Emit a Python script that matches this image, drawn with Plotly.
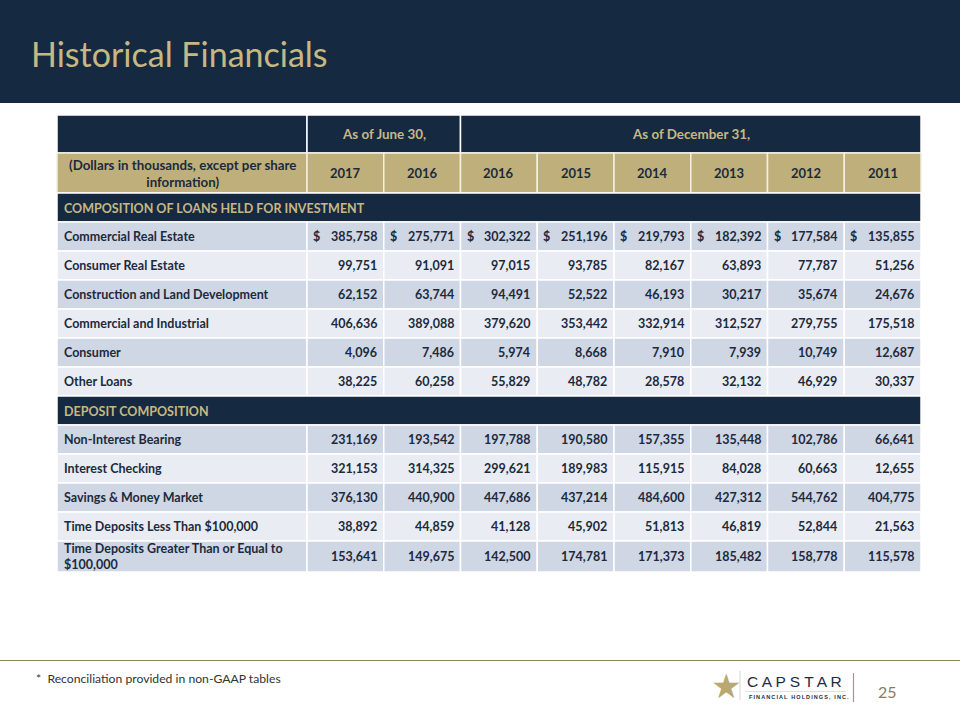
import plotly.graph_objects as go

# ---------------- data ----------------
period_groups = ["As of June 30,", "As of December 31,"]
period_group_sizes = [2, 6]
years = ["2017", "2016", "2016", "2015", "2014", "2013", "2012", "2011"]
units_label = "(Dollars in thousands, except per share<br>information)"

loan_section = "COMPOSITION OF LOANS HELD FOR INVESTMENT"
loan_categories = ["Commercial Real Estate", "Consumer Real Estate",
                   "Construction and Land Development", "Commercial and Industrial",
                   "Consumer", "Other Loans"]
commercial_real_estate = [385758, 275771, 302322, 251196, 219793, 182392, 177584, 135855]
consumer_real_estate = [99751, 91091, 97015, 93785, 82167, 63893, 77787, 51256]
construction_land_dev = [62152, 63744, 94491, 52522, 46193, 30217, 35674, 24676]
commercial_industrial = [406636, 389088, 379620, 353442, 332914, 312527, 279755, 175518]
consumer = [4096, 7486, 5974, 8668, 7910, 7939, 10749, 12687]
other_loans = [38225, 60258, 55829, 48782, 28578, 32132, 46929, 30337]
loan_values = [commercial_real_estate, consumer_real_estate, construction_land_dev,
               commercial_industrial, consumer, other_loans]

deposit_section = "DEPOSIT COMPOSITION"
deposit_categories = ["Non-Interest Bearing", "Interest Checking", "Savings & Money Market",
                      "Time Deposits Less Than $100,000",
                      "Time Deposits Greater Than or Equal to<br>$100,000"]
non_interest_bearing = [231169, 193542, 197788, 190580, 157355, 135448, 102786, 66641]
interest_checking = [321153, 314325, 299621, 189983, 115915, 84028, 60663, 12655]
savings_money_market = [376130, 440900, 447686, 437214, 484600, 427312, 544762, 404775]
time_dep_lt_100k = [38892, 44859, 41128, 45902, 51813, 46819, 52844, 21563]
time_dep_ge_100k = [153641, 149675, 142500, 174781, 171373, 185482, 158778, 115578]
deposit_values = [non_interest_bearing, interest_checking, savings_money_market,
                  time_dep_lt_100k, time_dep_ge_100k]

title_text = "Historical Financials"
footnote = "*  Reconciliation provided in non-GAAP tables"
page_number = "25"
logo_name = "C A P S T A R"
logo_sub = "FINANCIAL HOLDINGS, INC."

# ---------------- style ----------------
NAVY = "#152a40"
GOLD_FILL = "#bfb07b"
GOLD_TEXT = "#c7b883"
ROW_DARK = "#cfd6e4"
ROW_LIGHT = "#e9ecf2"
TEXT = "#1c2a3d"
FONT = "Lato"

X0, LABEL_W, COL_W = 57, 250, 76.75
TOP = 115
H_HEAD1, H_HEAD2, H_ROW = 38, 40, 29

shapes, annots = [], []


def rect(x0, y0, x1, y1, fill, lw=1.5, lc="white"):
    shapes.append(dict(type="rect", xref="x", yref="y", x0=x0, y0=y0, x1=x1, y1=y1,
                       fillcolor=fill, line=dict(color=lc, width=lw), layer="below"))


def text(x, y, s, size=12.5, color=TEXT, anchor="left", bold=True, fam=FONT):
    t = f"<b>{s}</b>" if bold else s
    annots.append(dict(x=x, y=y, xref="x", yref="y", text=t, showarrow=False,
                       xanchor=anchor, yanchor="middle", align="center" if anchor == "center" else "left",
                       font=dict(family=fam, size=size, color=color)))


ncols = len(years)
table_right = X0 + LABEL_W + COL_W * ncols
col_left = [X0 + LABEL_W + COL_W * i for i in range(ncols)]

# banner
shapes.append(dict(type="rect", xref="x", yref="y", x0=0, x1=960, y0=0, y1=103,
                   fillcolor=NAVY, line=dict(width=0), layer="below"))
text(29, 53, title_text, size=34, color=GOLD_TEXT, bold=False)

# header row 1
y = TOP
rect(X0, y, X0 + LABEL_W, y + H_HEAD1, NAVY)
start = 0
for g, n in zip(period_groups, period_group_sizes):
    gx0, gx1 = col_left[start], col_left[start] + COL_W * n
    rect(gx0, y, gx1, y + H_HEAD1, NAVY)
    text((gx0 + gx1) / 2, y + H_HEAD1 / 2, g, size=13.4, color=GOLD_TEXT, anchor="center")
    start += n
y += H_HEAD1

# header row 2
rect(X0, y, X0 + LABEL_W, y + H_HEAD2, GOLD_FILL, lc="#f3efe2")
text(X0 + LABEL_W / 2, y + H_HEAD2 / 2, units_label, size=13.3, color=TEXT, anchor="center")
for i, yr in enumerate(years):
    rect(col_left[i], y, col_left[i] + COL_W, y + H_HEAD2, GOLD_FILL, lc="#f3efe2")
    text(col_left[i] + COL_W / 2, y + H_HEAD2 / 2, yr, size=13, color=TEXT, anchor="center")
y += H_HEAD2


def section(y, name):
    rect(X0, y, table_right, y + H_ROW, NAVY)
    text(X0 + 5, y + H_ROW / 2 + 1, name, color=GOLD_TEXT)
    return y + H_ROW


def body(y, cats, vals, dollar_first=True):
    for r, (c, v) in enumerate(zip(cats, vals)):
        h = H_ROW + (2 if "<br>" in c else 0)
        fill = ROW_DARK if r % 2 == 0 else ROW_LIGHT
        rect(X0, y, X0 + LABEL_W, y + h, fill)
        text(X0 + 5, y + h / 2, c)
        for i, val in enumerate(v):
            rect(col_left[i], y, col_left[i] + COL_W, y + h, fill)
            text(col_left[i] + COL_W - 5, y + h / 2, f"{val:,}", anchor="right")
            if dollar_first and r == 0:
                text(col_left[i] + 4, y + h / 2, "$")
        y += h
    return y


y = section(y, loan_section)
y = body(y, loan_categories, loan_values)
y = section(y, deposit_section)
y = body(y, deposit_categories, deposit_values, dollar_first=False)

# footer
shapes.append(dict(type="line", xref="x", yref="y", x0=0, x1=960, y0=660.5, y1=660.5,
                   line=dict(color="#8f8565", width=1.2)))
text(34, 678, footnote, size=12.2, color="#333333", bold=False)

# logo
text(709, 686, "★", size=34, color="#b9a870", bold=False, fam="DejaVu Sans")
shapes.append(dict(type="line", xref="x", yref="y", x0=740, x1=740, y0=671, y1=700,
                   line=dict(color="#c9c9c9", width=0.8)))
text(745, 681, logo_name, size=15.5, color="#1e2c44", bold=False, fam="Liberation Sans")
shapes.append(dict(type="line", xref="x", yref="y", x0=745, x1=846, y0=691.5, y1=691.5,
                   line=dict(color="#c9c9c9", width=0.6)))
text(747, 697, "\u2009".join(logo_sub), size=5.5, color="#1e2c44", bold=True, fam="Liberation Sans")
shapes.append(dict(type="line", xref="x", yref="y", x0=853.5, x1=853.5, y0=673, y1=702,
                   line=dict(color="#a99b6e", width=1.2)))
text(876, 691, page_number, size=16, color="#8a7d55", bold=False)

fig = go.Figure()
fig.add_trace(go.Scatter(x=[0, 960], y=[0, 720], mode="markers",
                         marker=dict(opacity=0), hoverinfo="skip", showlegend=False))
fig.update_layout(width=960, height=720, margin=dict(l=0, r=0, t=0, b=0),
                  paper_bgcolor="white", plot_bgcolor="white",
                  xaxis=dict(range=[0, 960], visible=False, fixedrange=True),
                  yaxis=dict(range=[720, 0], visible=False, fixedrange=True),
                  shapes=shapes, annotations=annots, showlegend=False)
fig.write_html("out.html", config={"displayModeBar": False},
               post_script="document.body.style.margin='0';document.body.style.padding='0';"
                           "document.body.style.overflow='hidden';")
